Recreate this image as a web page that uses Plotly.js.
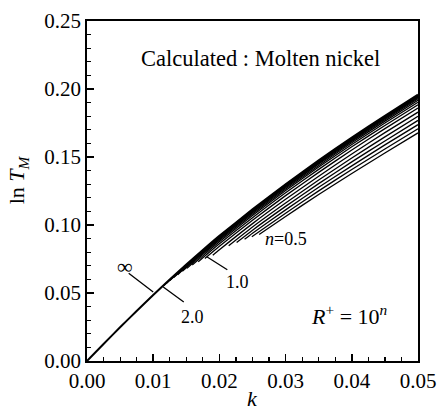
<!DOCTYPE html>
<html>
<head>
<meta charset="utf-8">
<script src="https://cdn.plot.ly/plotly-3.0.1.min.js"></script>
<style>html,body{margin:0;padding:0;background:#fff;}#chart{width:437px;height:413px;}</style>
</head>
<body>
<div id="chart"></div>
<script>
// R+ = 10^n, curves of ln T_M against k (molten nickel)
const k_inf   = [0, 0.0025, 0.005, 0.0075, 0.01, 0.0125, 0.015, 0.0175, 0.02, 0.025, 0.03, 0.035, 0.04, 0.045, 0.05];
const lnT_inf = [0, 0.0125, 0.0248, 0.0368, 0.0485, 0.0599, 0.0709, 0.0816, 0.0920, 0.1115, 0.1300, 0.1475, 0.1643, 0.1803, 0.1958];

const k_n20   = [0.0115, 0.0125, 0.015, 0.0175, 0.02, 0.025, 0.03, 0.035, 0.04, 0.045, 0.05];
const lnT_n20 = [0.0550, 0.0596, 0.0706, 0.0813, 0.0917, 0.1112, 0.1297, 0.1472, 0.1640, 0.1800, 0.1954];
const k_n19   = [0.0120, 0.015, 0.0175, 0.02, 0.025, 0.03, 0.035, 0.04, 0.045, 0.05];
const lnT_n19 = [0.0571, 0.0703, 0.0810, 0.0914, 0.1109, 0.1294, 0.1469, 0.1637, 0.1797, 0.1951];
const k_n18   = [0.0125, 0.015, 0.0175, 0.02, 0.025, 0.03, 0.035, 0.04, 0.045, 0.05];
const lnT_n18 = [0.0591, 0.0700, 0.0807, 0.0911, 0.1105, 0.1290, 0.1465, 0.1633, 0.1792, 0.1947];
const k_n17   = [0.0131, 0.015, 0.0175, 0.02, 0.025, 0.03, 0.035, 0.04, 0.045, 0.05];
const lnT_n17 = [0.0613, 0.0696, 0.0803, 0.0907, 0.1101, 0.1286, 0.1460, 0.1628, 0.1787, 0.1942];
const k_n16   = [0.0137, 0.015, 0.0175, 0.02, 0.025, 0.03, 0.035, 0.04, 0.045, 0.05];
const lnT_n16 = [0.0634, 0.0692, 0.0798, 0.0902, 0.1096, 0.1281, 0.1455, 0.1622, 0.1782, 0.1936];
const k_n15   = [0.0144, 0.015, 0.0175, 0.02, 0.025, 0.03, 0.035, 0.04, 0.045, 0.05];
const lnT_n15 = [0.0660, 0.0686, 0.0792, 0.0896, 0.1090, 0.1274, 0.1448, 0.1615, 0.1774, 0.1928];
const k_n14   = [0.0151, 0.0175, 0.02, 0.025, 0.03, 0.035, 0.04, 0.045, 0.05];
const lnT_n14 = [0.0681, 0.0784, 0.0887, 0.1081, 0.1265, 0.1438, 0.1605, 0.1764, 0.1917];
const k_n13   = [0.0159, 0.0175, 0.02, 0.025, 0.03, 0.035, 0.04, 0.045, 0.05];
const lnT_n13 = [0.0706, 0.0773, 0.0876, 0.1070, 0.1253, 0.1426, 0.1592, 0.1750, 0.1903];
const k_n12   = [0.0168, 0.0175, 0.02, 0.025, 0.03, 0.035, 0.04, 0.045, 0.05];
const lnT_n12 = [0.0729, 0.0759, 0.0862, 0.1054, 0.1237, 0.1409, 0.1575, 0.1732, 0.1884];
const k_n11   = [0.0178, 0.02, 0.025, 0.03, 0.035, 0.04, 0.045, 0.05];
const lnT_n11 = [0.0753, 0.0843, 0.1035, 0.1216, 0.1387, 0.1552, 0.1709, 0.1860];
const k_n10   = [0.0190, 0.02, 0.025, 0.03, 0.035, 0.04, 0.045, 0.05];
const lnT_n10 = [0.0778, 0.0818, 0.1010, 0.1189, 0.1359, 0.1522, 0.1679, 0.1830];
const k_n09   = [0.0214, 0.025, 0.03, 0.035, 0.04, 0.045, 0.05];
const lnT_n09 = [0.0848, 0.0986, 0.1162, 0.1331, 0.1493, 0.1648, 0.1799];
const k_n08   = [0.0226, 0.025, 0.03, 0.035, 0.04, 0.045, 0.05];
const lnT_n08 = [0.0871, 0.0962, 0.1137, 0.1304, 0.1464, 0.1618, 0.1769];
const k_n07   = [0.0238, 0.025, 0.03, 0.035, 0.04, 0.045, 0.05];
const lnT_n07 = [0.0895, 0.0940, 0.1111, 0.1277, 0.1435, 0.1589, 0.1738];
const k_n06   = [0.0249, 0.03, 0.035, 0.04, 0.045, 0.05];
const lnT_n06 = [0.0914, 0.1087, 0.1251, 0.1408, 0.1559, 0.1708];
const k_n05   = [0.0260, 0.03, 0.035, 0.04, 0.045, 0.05];
const lnT_n05 = [0.0930, 0.1063, 0.1224, 0.1379, 0.1529, 0.1677];

const xTickLabels = ['0.00', '0.01', '0.02', '0.03', '0.04', '0.05'];
const yTickLabels = ['0.00', '0.05', '0.10', '0.15', '0.20', '0.25'];
const xTickVals = [0, 0.01, 0.02, 0.03, 0.04, 0.05];
const yTickVals = [0, 0.05, 0.10, 0.15, 0.20, 0.25];

const series = [
  [k_n05, lnT_n05], [k_n06, lnT_n06], [k_n07, lnT_n07], [k_n08, lnT_n08], [k_n09, lnT_n09],
  [k_n10, lnT_n10], [k_n11, lnT_n11], [k_n12, lnT_n12], [k_n13, lnT_n13], [k_n14, lnT_n14],
  [k_n15, lnT_n15], [k_n16, lnT_n16], [k_n17, lnT_n17], [k_n18, lnT_n18], [k_n19, lnT_n19],
  [k_n20, lnT_n20]
];

const traces = series.map(s => ({
  x: s[0], y: s[1], type: 'scatter', mode: 'lines',
  line: {color: '#000', width: 1.3, shape: 'spline', smoothing: 0.5},
  showlegend: false, hoverinfo: 'skip'
}));
traces.push({
  x: k_inf, y: lnT_inf, type: 'scatter', mode: 'lines',
  line: {color: '#000', width: 2, shape: 'spline', smoothing: 0.5},
  showlegend: false, hoverinfo: 'skip'
});

const F = 'Liberation Serif';

const layout = {
  width: 437, height: 413,
  margin: {l: 87, r: 19, t: 21, b: 52},
  paper_bgcolor: '#fff', plot_bgcolor: '#fff',
  font: {family: F, color: '#000', size: 21},
  showlegend: false,
  xaxis: {
    range: [0, 0.05], tickvals: xTickVals, ticktext: xTickLabels,
    ticks: 'inside', ticklen: 7, tickwidth: 1.5, tickcolor: '#000',
    minor: {dtick: 0.0025, ticks: 'inside', ticklen: 4, tickwidth: 1.2, tickcolor: '#000'},
    showline: true, linecolor: '#000', linewidth: 1.8, mirror: true,
    showgrid: false, zeroline: false,
    tickfont: {family: F, size: 21, color: '#000'}
  },
  yaxis: {
    range: [0, 0.25], tickvals: yTickVals, ticktext: yTickLabels,
    ticks: 'inside', ticklen: 7, tickwidth: 1.5, tickcolor: '#000',
    minor: {dtick: 0.01, ticks: 'inside', ticklen: 4, tickwidth: 1.2, tickcolor: '#000'},
    showline: true, linecolor: '#000', linewidth: 1.8, mirror: true,
    showgrid: false, zeroline: false,
    tickfont: {family: F, size: 21, color: '#000'}
  },
  annotations: [
    {xref: 'paper', yref: 'paper', x: 0.523, y: 0.891, text: 'Calculated : Molten nickel',
     showarrow: false, font: {family: F, size: 22.5}, xanchor: 'center', yanchor: 'middle'},
    {xref: 'paper', yref: 'paper', x: 0.792, y: 0.135, text: '<i>R</i><sup>+</sup> = 10<sup><i>n</i></sup>',
     showarrow: false, font: {family: F, size: 22}, xanchor: 'center', yanchor: 'middle'},
    {xref: 'paper', yref: 'paper', x: 0.601, y: 0.359, text: '<i>n</i>=0.5',
     showarrow: false, font: {family: F, size: 18}, xanchor: 'center', yanchor: 'middle'},
    {xref: 'paper', yref: 'paper', x: 0.456, y: 0.232, text: '1.0',
     showarrow: false, font: {family: F, size: 18}, xanchor: 'center', yanchor: 'middle'},
    {xref: 'paper', yref: 'paper', x: 0.320, y: 0.129, text: '2.0',
     showarrow: false, font: {family: F, size: 18}, xanchor: 'center', yanchor: 'middle'},
    {xref: 'paper', yref: 'paper', x: 0.115, y: 0.279, text: '∞',
     showarrow: false, font: {family: F, size: 22}, xanchor: 'center', yanchor: 'middle'},
    // leader lines
    {x: 0.0181, y: 0.0767, xref: 'x', yref: 'y', text: '', showarrow: true, arrowhead: 0,
     arrowwidth: 1.3, arrowcolor: '#000', ax: 22, ay: 14},
    {x: 0.01152, y: 0.0544, xref: 'x', yref: 'y', text: '', showarrow: true, arrowhead: 0,
     arrowwidth: 1.3, arrowcolor: '#000', ax: 22, ay: 16},
    {x: 0.0100, y: 0.0507, xref: 'x', yref: 'y', text: '', showarrow: true, arrowhead: 0,
     arrowwidth: 1.3, arrowcolor: '#000', ax: -26, ay: -20},
    // axis titles
    {xref: 'paper', yref: 'paper', x: 0.5, y: -0.1515, text: '<i>k</i>',
     showarrow: false, font: {family: F, size: 22}, xanchor: 'center', yanchor: 'bottom'},
    {xref: 'paper', yref: 'paper', x: -0.208, y: 0.532, text: 'ln <i>T</i><sub><i>M</i></sub>',
     showarrow: false, font: {family: F, size: 22}, textangle: -90, xanchor: 'center', yanchor: 'middle'}
  ]
};

Plotly.newPlot('chart', traces, layout, {staticPlot: true, displayModeBar: false});
</script>
</body>
</html>
